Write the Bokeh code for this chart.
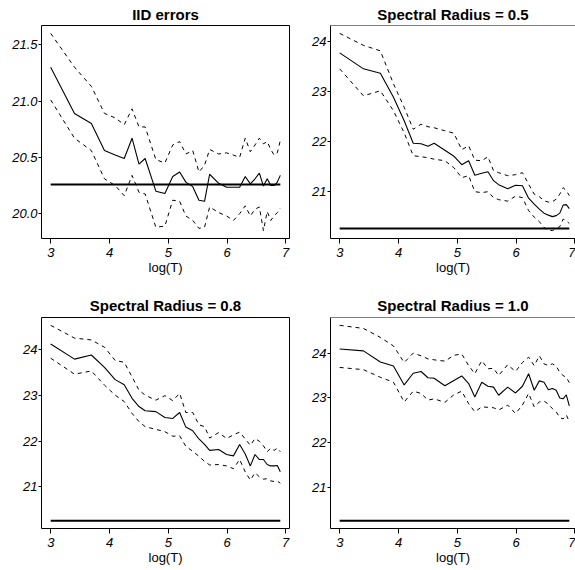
import numpy as np
from bokeh.plotting import figure
from bokeh.models import FixedTicker, Range1d, Span
from bokeh.layouts import column, row
from bokeh.embed import file_html
from bokeh.resources import INLINE

# ---------------- data ----------------
T = [20, 30, 40, 50, 60, 70, 80, 90, 100, 120, 140, 160, 180, 200, 225, 250,
     275, 300, 350, 400, 450, 500, 550, 600, 650, 700, 750, 800, 850, 900, 950, 1000]

HLINE = 20.26

titles = ["IID errors", "Spectral Radius = 0.5", "Spectral Radius = 0.8", "Spectral Radius = 1.0"]
x_ticks = [3, 4, 5, 6, 7]
x_tick_labels = ["3", "4", "5", "6", "7"]
x_label = "log(T)"

iid_ticks = [20.0, 20.5, 21.0, 21.5]
iid_tick_labels = ["20.0", "20.5", "21.0", "21.5"]
sr_ticks = [21, 22, 23, 24]
sr_tick_labels = ["21", "22", "23", "24"]

iid_mean = [21.30, 20.89, 20.80, 20.56, 20.52, 20.49, 20.67, 20.44, 20.49, 20.20, 20.18, 20.33,
            20.37, 20.28, 20.24, 20.12, 20.11, 20.35, 20.27, 20.235, 20.235, 20.235, 20.33, 20.265,
            20.31, 20.36, 20.245, 20.31, 20.25, 20.25, 20.28, 20.34]
iid_upper = [21.60, 21.30, 21.13, 20.89, 20.85, 20.79, 20.93, 20.77, 20.77, 20.48, 20.45, 20.61,
             20.64, 20.53, 20.56, 20.37, 20.43, 20.57, 20.53, 20.54, 20.52, 20.50, 20.67, 20.55,
             20.61, 20.67, 20.62, 20.64, 20.57, 20.52, 20.54, 20.65]
iid_lower = [21.01, 20.67, 20.56, 20.31, 20.25, 20.16, 20.34, 20.19, 20.175, 19.88, 19.89, 20.12,
             20.11, 19.98, 19.94, 19.87, 19.88, 20.06, 20.01, 19.98, 19.94, 20.00, 20.07, 19.98,
             20.04, 20.06, 19.85, 20.02, 19.94, 19.98, 20.01, 20.05]

sr05_mean = [23.78, 23.46, 23.37, 22.89, 22.42, 21.97, 21.96, 21.91, 21.97, 21.83, 21.71, 21.54,
             21.62, 21.33, 21.37, 21.40, 21.22, 21.14, 21.06, 21.13, 21.12, 20.87, 20.75, 20.65,
             20.57, 20.53, 20.50, 20.52, 20.57, 20.73, 20.74, 20.66]
sr05_upper = [24.17, 23.93, 23.82, 23.16, 22.69, 22.25, 22.35, 22.30, 22.28, 22.22, 22.17, 21.84,
              21.92, 21.63, 21.62, 21.70, 21.42, 21.38, 21.32, 21.34, 21.38, 21.15, 20.95, 20.90,
              20.82, 20.79, 20.80, 20.85, 20.95, 21.08, 21.02, 20.92]
sr05_lower = [23.46, 22.92, 23.02, 22.62, 22.18, 21.72, 21.70, 21.68, 21.65, 21.62, 21.48, 21.28,
              21.32, 21.00, 20.98, 21.00, 20.88, 20.84, 20.81, 20.91, 20.88, 20.62, 20.49, 20.40,
              20.28, 20.23, 20.22, 20.26, 20.30, 20.45, 20.42, 20.36]

sr08_mean = [24.13, 23.80, 23.89, 23.62, 23.35, 23.24, 22.94, 22.76, 22.67, 22.65, 22.52, 22.50,
             22.63, 22.31, 22.23, 22.05, 21.93, 21.80, 21.82, 21.71, 21.68, 21.93, 21.72, 21.46,
             21.71, 21.60, 21.60, 21.49, 21.46, 21.46, 21.47, 21.33]
sr08_upper = [24.54, 24.26, 24.22, 24.06, 23.77, 23.73, 23.41, 23.12, 23.01, 22.90, 23.00, 22.89,
              23.05, 22.63, 22.63, 22.36, 22.32, 22.07, 22.19, 22.06, 22.14, 22.20, 22.05, 21.91,
              22.06, 22.00, 21.90, 21.77, 21.85, 21.80, 21.85, 21.77]
sr08_lower = [23.82, 23.47, 23.54, 23.23, 23.01, 22.87, 22.61, 22.43, 22.32, 22.26, 22.21, 22.11,
              22.12, 21.89, 21.78, 21.67, 21.56, 21.48, 21.49, 21.46, 21.40, 21.60, 21.33, 21.15,
              21.31, 21.22, 21.17, 21.18, 21.13, 21.12, 21.13, 21.08]

sr10_mean = [24.09, 24.05, 23.80, 23.71, 23.29, 23.55, 23.59, 23.45, 23.44, 23.27, 23.39, 23.49,
             23.32, 23.02, 23.35, 23.26, 23.24, 23.06, 23.24, 23.11, 23.26, 23.54, 23.17, 23.38,
             23.35, 23.18, 23.21, 23.17, 23.00, 22.98, 23.07, 22.82]
sr10_upper = [24.62, 24.55, 24.35, 24.16, 23.79, 24.00, 23.94, 23.87, 23.85, 23.82, 23.95, 23.98,
              23.72, 23.54, 23.83, 23.65, 23.66, 23.50, 23.74, 23.59, 23.79, 23.91, 23.72, 23.94,
              23.76, 23.72, 23.76, 23.71, 23.57, 23.50, 23.46, 23.34]
sr10_lower = [23.68, 23.63, 23.46, 23.35, 22.91, 23.15, 23.10, 22.95, 22.98, 22.90, 23.07, 23.15,
              22.87, 22.69, 22.80, 22.79, 22.78, 22.73, 22.84, 22.65, 22.84, 23.10, 22.80, 22.91,
              22.93, 22.86, 22.76, 22.69, 22.56, 22.53, 22.62, 22.47]

FONT = "Liberation Sans"
FULL_FRAME_W = 248


def make_panel(title, mean, upper, lower, yticks, ylabels, width, height,
               bl, br, bt, bb, title_standoff, clipped):
    x = np.log(np.array(T, dtype=float))
    ally = mean + upper + lower + [HLINE]
    ymin, ymax = min(ally), max(ally)
    yr = ymax - ymin
    y0, y1 = ymin - 0.04 * yr, ymax + 0.04 * yr
    xr = x.max() - x.min()
    x0, x1 = x.min() - 0.04 * xr, x.max() + 0.04 * xr
    frame_w = width - bl - br
    x1 = x0 + (x1 - x0) * frame_w / FULL_FRAME_W

    p = figure(width=width, height=height, x_range=Range1d(x0, x1), y_range=Range1d(y0, y1),
               output_backend="svg", toolbar_location=None,
               min_border_left=bl, min_border_right=br, min_border_top=bt, min_border_bottom=bb)
    p.xgrid.visible = False
    p.ygrid.visible = False
    p.background_fill_color = "white"
    p.border_fill_color = "white"

    p.title.text = title
    p.title.align = "center"
    p.title.text_font = FONT
    p.title.text_font_style = "bold"
    p.title.text_font_size = "15px"
    p.title.text_color = "black"
    p.title.standoff = title_standoff
    p.title.offset = 0

    p.xaxis.ticker = FixedTicker(ticks=x_ticks)
    p.xaxis.major_label_overrides = {t: s for t, s in zip(x_ticks, x_tick_labels)}
    p.yaxis.ticker = FixedTicker(ticks=yticks)
    p.yaxis.major_label_overrides = {t: s for t, s in zip(yticks, ylabels)}

    for ax in (p.xaxis, p.yaxis):
        ax.major_tick_in = 0
        ax.minor_tick_in = 0
        ax.minor_tick_out = 0
        ax.major_tick_line_color = "black"
        ax.major_label_text_font = FONT
        ax.major_label_text_font_style = "italic"
        ax.major_label_text_font_size = "13px"
        ax.major_label_text_color = "black"
    p.xaxis.major_tick_out = 5
    p.xaxis.major_label_standoff = 4
    p.yaxis.major_tick_out = 3
    p.yaxis.major_label_standoff = 1
    p.xaxis.axis_label = x_label
    p.xaxis.axis_label_text_font = FONT
    p.xaxis.axis_label_text_font_style = "normal"
    p.xaxis.axis_label_text_font_size = "13px"
    p.xaxis.axis_label_text_color = "black"
    p.xaxis.axis_label_standoff = 0

    if clipped:
        p.outline_line_color = None
        p.xaxis.axis_line_color = "black"
        p.yaxis.axis_line_color = "black"
        p.add_layout(Span(location=y1, dimension="width", line_color="black", line_width=1))
    else:
        p.outline_line_color = "black"
        p.outline_line_alpha = 1
        p.xaxis.axis_line_color = None
        p.yaxis.axis_line_color = None

    p.line(x, upper, line_color="black", line_width=1, line_dash="4 4")
    p.line(x, lower, line_color="black", line_width=1, line_dash="4 4")
    p.line(x, mean, line_color="black", line_width=1.1)
    p.line([x[0], x[-1]], [HLINE, HLINE], line_color="black", line_width=2)
    return p


p1 = make_panel(titles[0], iid_mean, iid_upper, iid_lower, iid_ticks, iid_tick_labels,
                308, 291, 41, 19, 25, 53, 5, False)
p2 = make_panel(titles[1], sr05_mean, sr05_upper, sr05_lower, sr_ticks, sr_tick_labels,
                267, 291, 22, 0, 25, 53, 5, True)
p3 = make_panel(titles[2], sr08_mean, sr08_upper, sr08_lower, sr_ticks, sr_tick_labels,
                308, 279, 41, 19, 23, 42, 7, False)
p4 = make_panel(titles[3], sr10_mean, sr10_upper, sr10_lower, sr_ticks, sr_tick_labels,
                267, 279, 22, 0, 23, 42, 7, True)

layout = column(row(p1, p2), row(p3, p4))
open("out.html", "w").write(file_html(layout, INLINE))
